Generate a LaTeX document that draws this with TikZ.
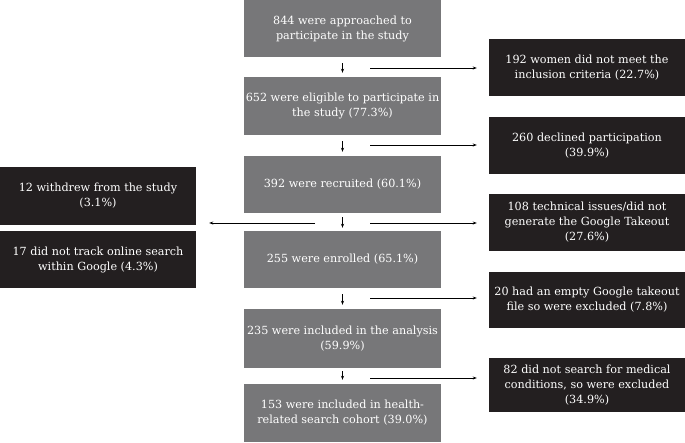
\documentclass[tikz,border=0pt]{standalone}
\usepackage{fontspec}
\setmainfont{DejaVu Serif}
\usetikzlibrary{arrows.meta}
\definecolor{boxgray}{RGB}{119,119,121}
\definecolor{boxblack}{RGB}{35,31,32}
\begin{document}
\begin{tikzpicture}[x=1pt,y=-1pt,
  base/.style={rectangle,inner sep=0pt,text=white,align=center,
    font=\fontsize{11.2}{15}\selectfont},
  graybox/.style={base,fill=boxgray,minimum width=197pt,minimum height=57pt},
  blackbox/.style={base,fill=boxblack,minimum width=196pt,minimum height=57pt},
  arr/.style={-{Stealth[length=4pt,width=3pt]},line width=0.9pt,black},
  varr/.style={arr,shorten <=6pt,shorten >=4pt}]
\useasboundingbox (0,0) rectangle (685,442);
% main column
\node[graybox] (g1) at (342.5,28.5) {844 were approached to\\participate in the study};
\node[graybox,minimum height=58pt] (g2) at (342.5,106) {652 were eligible to participate in\\the study (77.3\%)};
\node[graybox] (g3) at (342.5,184.5) {392 were recruited (60.1\%)};
\node[graybox] (g4) at (342.5,259.5) {255 were enrolled (65.1\%)};
\node[graybox,minimum height=59pt] (g5) at (342.5,338.5) {235 were included in the analysis\\(59.9\%)};
\node[graybox,minimum height=58pt] (g6) at (342.5,413) {153 were included in health-\\related search cohort (39.0\%)};
% right exclusions
\node[blackbox] (r1) at (587,67.5) {192 women did not meet the\\inclusion criteria (22.7\%)};
\node[blackbox] (r2) at (587,145.5) {260 declined participation\\(39.9\%)};
\node[blackbox] (r3) at (587,222.5) {108 technical issues/did not\\generate the Google Takeout\\(27.6\%)};
\node[blackbox,minimum height=56pt] (r4) at (587,300) {20 had an empty Google takeout\\file so were excluded (7.8\%)};
\node[blackbox,minimum height=54pt] (r5) at (587,385) {82 did not search for medical\\conditions, so were excluded\\(34.9\%)};
% left exclusions
\node[blackbox,minimum height=58pt] (l1) at (98,196) {12 withdrew from the study\\(3.1\%)};
\node[blackbox] (l2) at (98,259.5) {17 did not track online search\\within Google (4.3\%)};
% vertical arrows
\draw[varr] (g1) -- (g2);
\draw[varr] (g2) -- (g3);
\draw[varr,shorten <=4pt,shorten >=3pt] (g3) -- (g4);
\draw[varr] (g4) -- (g5);
\draw[varr,shorten <=3pt,shorten >=4pt] (g5) -- (g6);
% horizontal arrow starts
\coordinate (h1) at (370,68);
\coordinate (h2) at (370,145);
\coordinate (h3) at (370,223);
\coordinate (h4) at (370,298);
\coordinate (h5) at (370,378);
\coordinate (hl) at (315,223);
\draw[arr,shorten >=12pt] (h1) -- (h1 -| r1.west);
\draw[arr,shorten >=12pt] (h2) -- (h2 -| r2.west);
\draw[arr,shorten >=12pt] (h3) -- (h3 -| r3.west);
\draw[arr,shorten >=12pt] (h4) -- (h4 -| r4.west);
\draw[arr,shorten >=12pt] (h5) -- (h5 -| r5.west);
\draw[arr,shorten >=13pt] (hl) -- (hl -| l1.east);
\end{tikzpicture}
\end{document}
